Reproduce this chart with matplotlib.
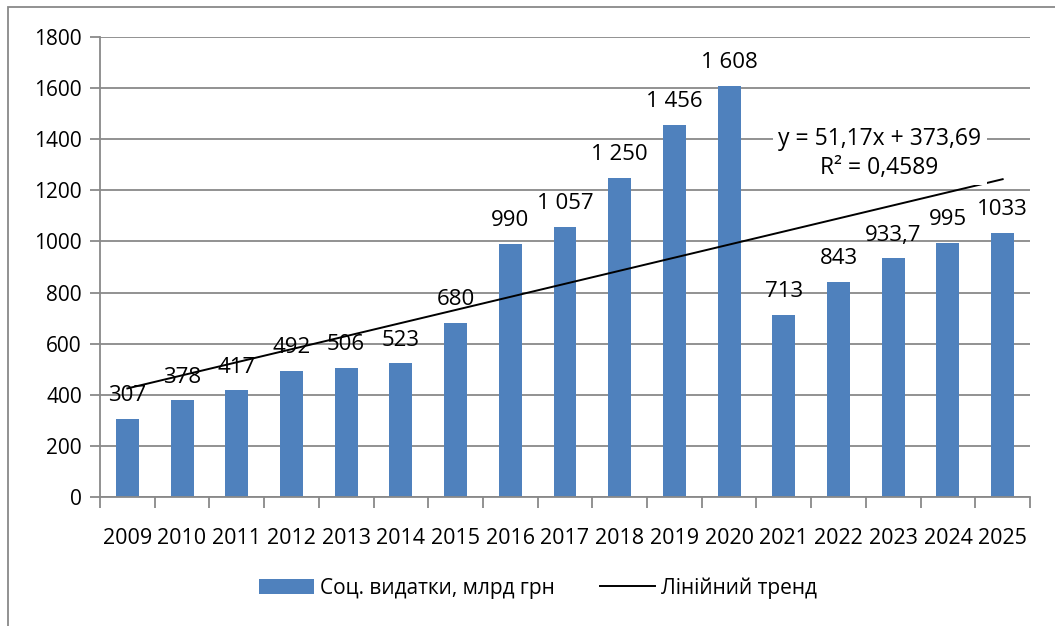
import numpy as np
import matplotlib
matplotlib.use("Agg")
from matplotlib import pyplot as plt
from matplotlib.patches import Rectangle

plt.rcParams['font.family'] = ['Open Sans', 'DejaVu Sans']

years = ['2009', '2010', '2011', '2012', '2013', '2014', '2015', '2016', '2017',
         '2018', '2019', '2020', '2021', '2022', '2023', '2024', '2025']
values = [307, 378, 417, 492, 506, 523, 680, 990, 1057, 1250, 1456, 1608,
          713, 843, 933.7, 995, 1033]
labels = ['307', '378', '417', '492', '506', '523', '680', '990', '1 057',
          '1 250', '1 456', '1 608', '713', '843', '933,7', '995', '1033']
slope = 51.17
intercept = 373.69
eq_text = 'y = 51,17x + 373,69\nR² = 0,4589'

W, H = 1055, 626
fig = plt.figure(figsize=(W / 100, H / 100), dpi=100)
ax = fig.add_axes([100 / W, 1 - 497 / H, 930 / W, 460 / H])

x = np.arange(1, len(years) + 1)
bar_color = '#4F81BD'
bars = ax.bar(x, values, width=0.42, color=bar_color, zorder=2)

trend = slope * x + intercept
line, = ax.plot(x, trend, color='black', lw=1.4, zorder=3)

for xi, v, lab in zip(x, values, labels):
    ax.text(xi, v + 50, lab, ha='center', va='bottom', fontsize=16, zorder=4)

ax.text(14.75, 1345, eq_text, ha='center', va='center', fontsize=16.5,
        linespacing=1.3, zorder=5,
        bbox=dict(facecolor='white', edgecolor='none', pad=4))

ax.set_xlim(0.5, len(years) + 0.5)
ax.set_ylim(0, 1800)
ax.set_yticks(range(0, 1801, 200))
ax.grid(axis='y', color='#898989', lw=1.3, zorder=0)
ax.set_axisbelow(True)

ax.set_xticks(x)
ax.set_xticklabels(years, fontsize=15.5)
ax.set_xticks(np.arange(0.5, len(years) + 1, 1), minor=True)
ax.tick_params(axis='x', which='major', length=0, pad=22)
ax.tick_params(axis='x', which='minor', length=8, color='#898989', width=1.3)
ax.tick_params(axis='y', length=7, color='#898989', width=1.3, labelsize=15, pad=6)

for side in ['top', 'right']:
    ax.spines[side].set_visible(False)
for side in ['left', 'bottom']:
    ax.spines[side].set_color('#898989')
    ax.spines[side].set_linewidth(1.3)

fig.legend([bars, line], ['Соц. видатки, млрд грн', 'Лінійний тренд'],
           loc='center', bbox_to_anchor=(538 / W, 1 - 588 / H), ncol=2,
           frameon=False, fontsize=15, handlelength=2.6, columnspacing=2.2,
           handletextpad=0.3)

fig.patches.append(Rectangle((8 / W, -0.1), 1.2, 1 - 7 / H + 0.1,
                             transform=fig.transFigure, fill=False,
                             edgecolor='#898989', lw=1.3))

fig.savefig('out.png', dpi=100)
